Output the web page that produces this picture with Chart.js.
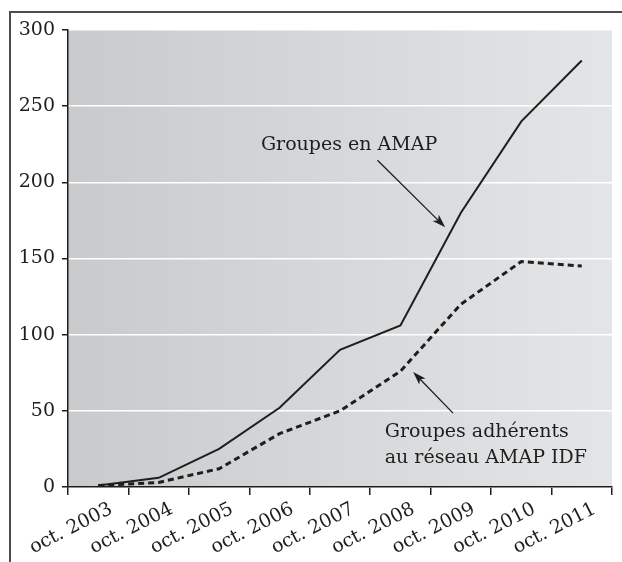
<!DOCTYPE html>
<html>
<head>
<meta charset="utf-8">
<script src="https://cdn.jsdelivr.net/npm/chart.js@4/dist/chart.umd.min.js"></script>
<style>
  html, body { margin: 0; padding: 0; background: #fff; }
  canvas { display: block; }
</style>
</head>
<body>
<canvas id="amapChart" width="622" height="562"></canvas>
<script>
  // Data - AMAP groups per year (Ile-de-France)
  const categories = ['oct. 2003', 'oct. 2004', 'oct. 2005', 'oct. 2006', 'oct. 2007',
                      'oct. 2008', 'oct. 2009', 'oct. 2010', 'oct. 2011'];
  const groupesEnAmap = [1, 6, 25, 52, 90, 106, 180, 240, 280];
  const groupesAdherents = [1, 3, 12, 35, 50, 76, 120, 148, 145];
  const yTicks = [0, 50, 100, 150, 200, 250, 300];

  const serif = '"DejaVu Serif", serif';
  const ink = '#1e1e1e';

  // grey gradient behind the plot + the frame around the figure
  const backdrop = {
    id: 'backdrop',
    beforeDraw(chart) {
      const { ctx, chartArea: a } = chart;
      ctx.save();
      const g = ctx.createLinearGradient(a.left, 0, a.right, 0);
      g.addColorStop(0, '#c9cacc');
      g.addColorStop(1, '#e4e5e6');
      ctx.fillStyle = g;
      ctx.fillRect(a.left, a.top, a.right - a.left, a.bottom - a.top);
      ctx.strokeStyle = '#4d4d4d';
      ctx.lineWidth = 2;
      ctx.beginPath();
      ctx.moveTo(10, 562);
      ctx.lineTo(10, 12);
      ctx.lineTo(622, 12);
      ctx.stroke();
      ctx.restore();
    }
  };

  // text labels with arrows pointing at the two curves
  const callouts = {
    id: 'callouts',
    afterDatasetsDraw(chart) {
      const { ctx, scales: { x, y } } = chart;
      const px = (i, v) => [x.getPixelForValue(i), y.getPixelForValue(v)];
      const arrow = (from, to) => {
        const [x1, y1] = px(...from), [x2, y2] = px(...to);
        const ang = Math.atan2(y2 - y1, x2 - x1);
        ctx.beginPath();
        ctx.moveTo(x1, y1);
        ctx.lineTo(x2 - 8 * Math.cos(ang), y2 - 8 * Math.sin(ang));
        ctx.stroke();
        ctx.beginPath();
        ctx.moveTo(x2, y2);
        ctx.lineTo(x2 - 14 * Math.cos(ang - 0.32), y2 - 14 * Math.sin(ang - 0.32));
        ctx.lineTo(x2 - 10 * Math.cos(ang), y2 - 10 * Math.sin(ang));
        ctx.lineTo(x2 - 14 * Math.cos(ang + 0.32), y2 - 14 * Math.sin(ang + 0.32));
        ctx.closePath();
        ctx.fill();
      };
      ctx.save();
      ctx.fillStyle = ink;
      ctx.strokeStyle = ink;
      ctx.lineWidth = 1.3;
      ctx.font = '19px ' + serif;
      ctx.textBaseline = 'alphabetic';

      ctx.textAlign = 'center';
      ctx.fillText('Groupes en AMAP', ...px(4.15, 221.5));
      arrow([4.62, 214.5], [5.74, 170.5]);

      ctx.textAlign = 'left';
      ctx.fillText('Groupes adhérents', ...px(4.74, 33));
      ctx.fillText('au réseau AMAP IDF', ...px(4.74, 16));
      arrow([5.87, 48.5], [5.21, 75.5]);
      ctx.restore();
    }
  };

  new Chart(document.getElementById('amapChart').getContext('2d'), {
    type: 'line',
    data: {
      labels: categories,
      datasets: [{
        label: 'Groupes en AMAP',
        data: groupesEnAmap,
        borderColor: ink,
        borderWidth: 2,
        pointRadius: 0,
        tension: 0
      }, {
        label: 'Groupes adhérents au réseau AMAP IDF',
        data: groupesAdherents,
        borderColor: ink,
        borderWidth: 3,
        borderDash: [6, 4],
        pointRadius: 0,
        tension: 0
      }]
    },
    options: {
      responsive: false,
      animation: false,
      layout: { padding: { top: 30, right: 10, left: 0, bottom: 0 } },
      scales: {
        x: {
          offset: true,
          grid: { offset: true, drawOnChartArea: false, tickColor: ink, tickLength: 8, lineWidth: 1.5 },
          border: { color: ink, width: 1.5 },
          ticks: { color: ink, font: { family: serif, size: 19 }, minRotation: 27, maxRotation: 27, padding: 3, labelOffset: 13 },
          afterFit: (s) => { s.height = 75; }
        },
        y: {
          min: 0,
          max: 300,
          afterBuildTicks: (s) => { s.ticks = yTicks.map(v => ({ value: v })); },
          grid: { color: '#ffffff', lineWidth: 1.5, tickColor: ink, tickLength: 6 },
          border: { color: ink, width: 1.5 },
          ticks: { color: ink, font: { family: serif, size: 19 }, padding: 7 },
          afterFit: (s) => { s.width = 68; }
        }
      },
      plugins: {
        legend: { display: false },
        tooltip: { enabled: false }
      }
    },
    plugins: [backdrop, callouts]
  });
</script>
</body>
</html>
